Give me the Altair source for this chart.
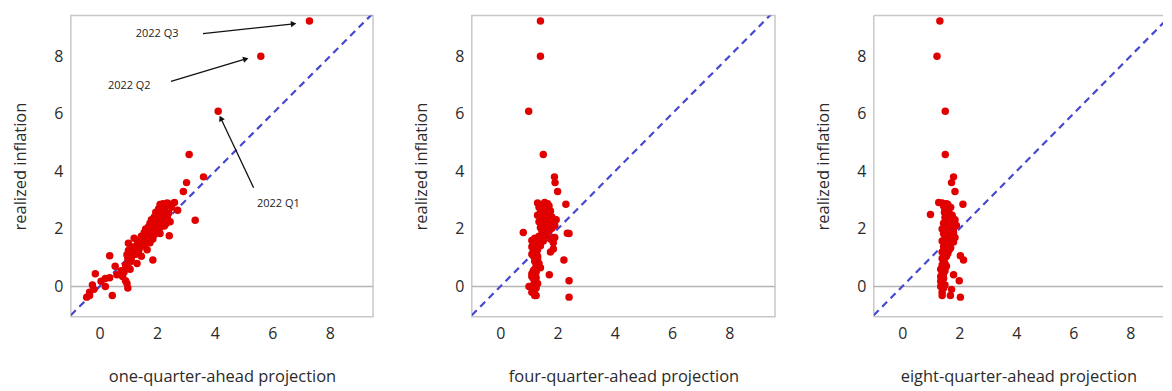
import math
import altair as alt
import pandas as pd

# realized inflation (shared across panels)
realized = [9.23, 8.00, 6.09, 4.59, 3.81, 3.61, 3.30,
            2.92, 2.90, 2.88, 2.86, 2.85, 2.80, 2.75, 2.70, 2.65, 2.62, 2.58, 2.55, 2.50, 2.48,
            2.45, 2.42, 2.40, 2.35, 2.32, 2.30, 2.26, 2.25, 2.22, 2.20, 2.18, 2.15, 2.12, 2.10, 2.08, 2.05, 2.02, 2.00,
            1.95, 1.92, 1.88, 1.85, 1.84, 1.80, 1.76, 1.75, 1.70, 1.68, 1.65, 1.60, 1.58, 1.55, 1.52, 1.50,
            1.45, 1.42, 1.38, 1.35, 1.30, 1.28, 1.25, 1.20, 1.15, 1.12, 1.10, 1.07, 1.05, 1.00,
            0.97, 0.92, 0.88, 0.80, 0.75, 0.70, 0.65, 0.60, 0.55, 0.50, 0.44, 0.41,
            0.35, 0.30, 0.28, 0.20, 0.18, 0.10, 0.05, 0.00, -0.05, -0.10, -0.20, -0.31, -0.31, -0.37]

proj_1q = [7.29, 5.60, 4.12, 3.11, 3.61, 3.02, 2.91,
           2.60, 2.35, 2.20, 2.45, 2.10, 2.30, 2.50, 2.05, 2.71, 2.25, 1.95, 2.40, 2.15, 2.00,
           2.20, 1.90, 2.35, 2.05, 1.80, 3.32, 2.15, 2.45, 1.95, 1.75, 2.30, 2.00, 1.85, 2.25, 1.70, 2.10, 1.90, 1.60,
           1.80, 2.00, 1.55, 1.70, 2.10, 1.90, 2.42, 1.45, 1.65, 1.20, 1.85, 1.50, 1.35, 1.60, 1.75, 1.00,
           1.30, 1.55, 1.10, 1.40, 1.20, 1.65, 1.00, 1.35, 1.15, 1.25, 0.95, 0.35, 1.45, 1.10,
           0.98, 1.85, 1.10, 1.30, 0.90, 0.54, 1.00, 1.06, 0.75, 0.85, -0.15, 0.60,
           0.80, 0.35, 0.20, 0.90, 0.05, 0.95, -0.25, 0.20, 0.98, -0.20, -0.35, 0.44, -0.35, -0.45]

proj_4q = [1.40, 1.40, 0.99, 1.50, 1.89, 1.91, 2.00,
           1.55, 1.30, 1.65, 2.29, 1.45, 1.70, 1.35, 1.60, 1.50, 1.75, 1.40, 1.55, 1.65, 1.30,
           1.50, 1.80, 1.40, 1.65, 1.95, 1.55, 1.70, 1.35, 1.85, 1.60, 1.45, 1.75, 1.90, 1.50, 1.65, 1.40, 1.80, 1.55,
           1.45, 1.70, 0.80, 2.34, 2.40, 1.60, 1.55, 1.35, 1.90, 1.20, 1.75, 1.10, 1.50, 1.30, 1.85, 1.15,
           1.25, 1.40, 1.10, 1.20, 1.85, 1.30, 1.15, 1.75, 1.20, 1.10, 1.25, 1.15, 1.30, 1.20,
           1.30, 2.22, 1.20, 1.35, 1.25, 1.30, 1.40, 1.20, 1.15, 1.25, 1.10, 1.71,
           1.10, 1.25, 1.15, 2.40, 1.20, 1.30, 1.15, 1.00, 1.25, 1.20, 1.10, 1.20, 1.25, 2.40]

proj_8q = [1.32, 1.22, 1.51, 1.51, 1.80, 1.73, 1.85,
           1.28, 1.40, 1.55, 2.13, 1.60, 1.45, 1.70, 1.62, 1.50, 1.58, 1.48, 1.65, 0.99, 1.75,
           1.60, 1.75, 1.50, 1.65, 1.85, 1.55, 1.70, 1.80, 1.60, 1.45, 1.75, 1.65, 1.90, 1.50, 1.70, 1.60, 1.80, 1.40,
           1.70, 1.55, 1.80, 1.60, 1.45, 1.75, 1.65, 1.50, 1.85, 1.60, 1.70, 1.55, 1.40, 1.80, 1.50, 1.65,
           1.55, 1.60, 1.45, 1.70, 1.50, 1.65, 1.55, 1.40, 1.60, 1.50, 1.45, 2.04, 1.55, 1.50,
           1.40, 2.15, 1.45, 1.50, 1.40, 1.55, 1.45, 1.35, 1.50, 1.40, 1.45, 1.80,
           1.35, 1.40, 1.45, 2.00, 1.35, 1.40, 1.50, 1.35, 1.45, 1.73, 1.40, 1.40, 1.69, 2.04]

panel_titles = ["one-quarter-ahead projection", "four-quarter-ahead projection",
                "eight-quarter-ahead projection"]
y_title = "realized inflation"
tick_values = [0, 2, 4, 6, 8]

# annotations (panel 1)
ann_labels = ["2022 Q1", "2022 Q2", "2022 Q3"]
ann_text_x = [6.21, 1.03, 2.00]
ann_text_y = [2.87, 6.96, 8.79]
arrow_x0 = [5.35, 2.48, 3.59]
arrow_y0 = [3.43, 7.13, 8.79]
arrow_x1 = [4.21, 5.08, 6.74]
arrow_y1 = [5.85, 7.91, 9.13]

Y_DOMAIN = [-1.05, 9.42]
FONT = "Open Sans"


def panel(xvals, title, xmax, width, annotate=False, frame=True):
    xs = alt.Scale(domain=[-1.0, xmax], nice=False, zero=False)
    ys = alt.Scale(domain=Y_DOMAIN, nice=False, zero=False)
    xenc = alt.X("proj:Q", scale=xs, axis=alt.Axis(values=tick_values, title=title))
    yenc = alt.Y("realized:Q", scale=ys, axis=alt.Axis(values=tick_values, title=y_title))

    pts = pd.DataFrame({"proj": xvals, "realized": realized})
    zero = pd.DataFrame({"realized": [0.0]})
    diag = pd.DataFrame({"proj": [-1.0, 10.0], "realized": [-1.0, 10.0]})

    zero_rule = alt.Chart(zero).mark_rule(color="#b5b5b5", strokeWidth=1.5).encode(y=yenc)
    diag_line = alt.Chart(diag).mark_line(
        color="#4747d1", strokeDash=[7, 5], strokeWidth=2.2, clip=True
    ).encode(x=xenc, y=yenc)
    dots = alt.Chart(pts).mark_point(
        filled=True, color="#e00000", size=56, opacity=1, clip=True
    ).encode(x=xenc, y=yenc)

    layers = [zero_rule, diag_line, dots]

    if not frame:
        top = pd.DataFrame({"realized": [Y_DOMAIN[1], Y_DOMAIN[0]]})
        left = pd.DataFrame({"proj": [-1.0]})
        layers.insert(0, alt.Chart(top).mark_rule(color="#c8c8c8", strokeWidth=1.5).encode(y=yenc))
        layers.insert(0, alt.Chart(left).mark_rule(color="#c8c8c8", strokeWidth=1.5).encode(x=xenc))

    if annotate:
        ann = pd.DataFrame({
            "label": ann_labels,
            "proj": ann_text_x, "realized": ann_text_y,
        })
        arr = pd.DataFrame({
            "proj": arrow_x0, "realized": arrow_y0,
            "proj2": arrow_x1, "realized2": arrow_y1,
        })
        heads = pd.DataFrame({
            "proj": arrow_x1, "realized": arrow_y1,
            "angle": [
                math.degrees(math.atan2(-(y1 - y0), (x1 - x0))) % 360
                for x0, y0, x1, y1 in zip(arrow_x0, arrow_y0, arrow_x1, arrow_y1)
            ],
        })
        layers.append(alt.Chart(arr).mark_rule(color="#111111", strokeWidth=1.3).encode(
            x=xenc, y=yenc, x2="proj2:Q", y2="realized2:Q"))
        layers.append(alt.Chart(heads).mark_point(
            shape="triangle-right", filled=True, color="#111111", size=40, opacity=1
        ).encode(x=xenc, y=yenc, angle=alt.Angle("angle:Q", scale=None)))
        layers.append(alt.Chart(ann).mark_text(
            fontSize=11, font=FONT, color="#222222", align="center", baseline="middle"
        ).encode(x=xenc, y=yenc, text="label:N"))

    ch = alt.layer(*layers).properties(width=width, height=302)
    if not frame:
        ch = ch.properties(view=alt.ViewBackground(stroke=None))
    return ch


p1 = panel(proj_1q, panel_titles[0], 9.5, 303, annotate=True)
p2 = panel(proj_4q, panel_titles[1], 9.6, 304)
p3 = panel(proj_8q, panel_titles[2], 9.15, 290, frame=False)

chart = alt.hconcat(p1, p2, p3, spacing=38).properties(
    padding={"left": 4, "top": 6, "right": 0, "bottom": 0},
    background="white",
).configure_view(
    stroke="#c8c8c8", strokeWidth=1.5
).configure_axis(
    domain=False, ticks=False, grid=False,
    labelFont=FONT, labelFontSize=16, labelColor="#2a2a2a", labelPadding=8,
    titleFont=FONT, titleFontSize=16.5, titleFontWeight="normal", titleColor="#2a2a2a",
    titlePadding=25,
).configure_axisX(titlePadding=27, labelPadding=9)

chart.save("out.html", embed_options={"renderer": "svg", "actions": False})
